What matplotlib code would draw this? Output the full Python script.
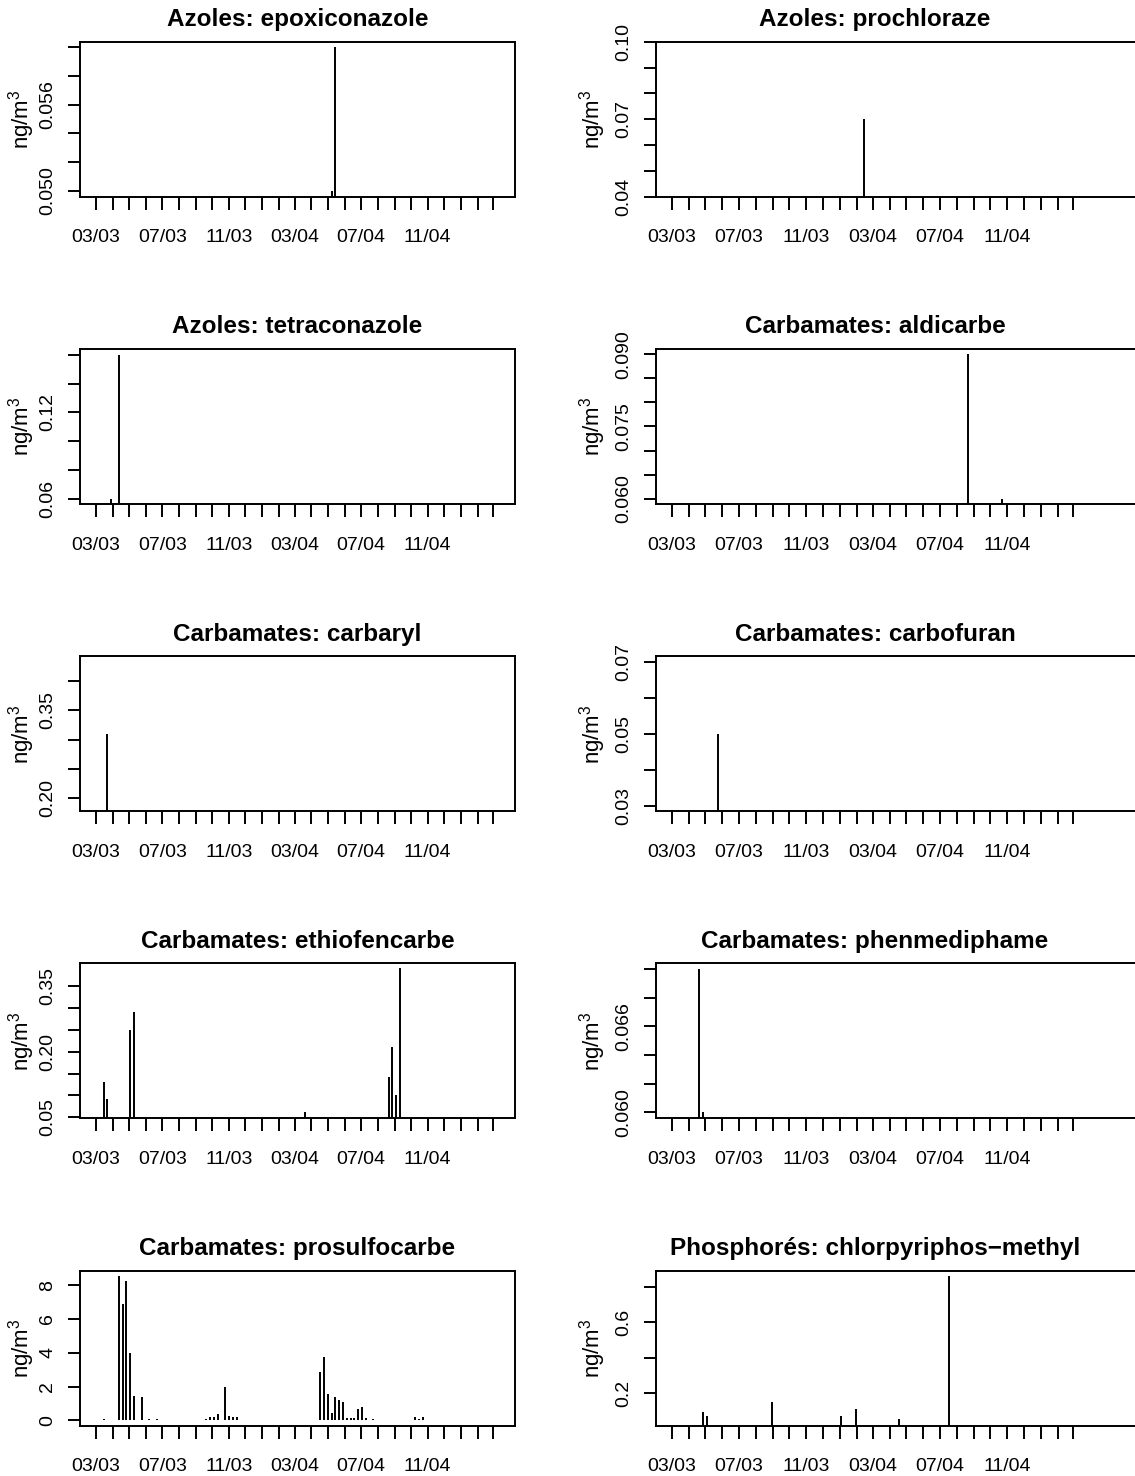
import numpy as np, pandas as pd
import matplotlib; matplotlib.use("Agg")
import matplotlib.pyplot as plt
import matplotlib.dates as mdates

plt.rcParams.update({"font.family": "Liberation Sans", "font.size": 14,
                     "mathtext.fontset": "custom", "mathtext.rm": "Liberation Sans",
                     "mathtext.it": "Liberation Sans:italic", "axes.linewidth": 1.4})

# ---- data (weekly samples, ng/m3) ----
epoxi_dates = ["2004-05-08", "2004-05-15"]
epoxi_vals  = [0.050, 0.060]
prochl_dates = ["2004-02-14"]
prochl_vals  = [0.070]
tetra_dates = ["2003-03-29", "2003-04-12"]
tetra_vals  = [0.060, 0.160]
aldi_dates = ["2004-08-21", "2004-10-23"]
aldi_vals  = [0.090, 0.060]
carbaryl_dates = ["2003-03-22"]
carbaryl_vals  = [0.31]
carbofuran_dates = ["2003-05-24"]
carbofuran_vals  = [0.050]
ethio_dates = ["2003-03-15", "2003-03-22", "2003-05-03", "2003-05-10", "2004-03-20",
               "2004-08-21", "2004-08-28", "2004-09-04", "2004-09-11"]
ethio_vals  = [0.131, 0.091, 0.251, 0.291, 0.062, 0.141, 0.211, 0.101, 0.392]
phenmed_dates = ["2003-04-19", "2003-04-26"]
phenmed_vals  = [0.070, 0.060]
prosulfo_dates = ["2003-03-15", "2003-04-12", "2003-04-19", "2003-04-26", "2003-05-03",
                  "2003-05-10", "2003-05-24", "2003-06-07", "2003-06-21",
                  "2003-09-20", "2003-09-27", "2003-10-04", "2003-10-11", "2003-10-25",
                  "2003-11-01", "2003-11-08", "2003-11-15",
                  "2004-04-17", "2004-04-24", "2004-05-01", "2004-05-08", "2004-05-15",
                  "2004-05-22", "2004-05-29", "2004-06-05", "2004-06-12", "2004-06-19",
                  "2004-06-26", "2004-07-03", "2004-07-10", "2004-07-24",
                  "2004-10-09", "2004-10-16", "2004-10-23"]
prosulfo_vals  = [0.08, 8.53, 6.88, 8.23, 4.01, 1.45, 1.36, 0.10, 0.10,
                  0.08, 0.20, 0.20, 0.41, 1.96, 0.29, 0.18, 0.18,
                  2.89, 3.73, 1.57, 0.43, 1.39, 1.22, 1.10, 0.14, 0.14, 0.14,
                  0.69, 0.81, 0.14, 0.10,
                  0.20, 0.08, 0.20]
chlor_dates = ["2003-04-26", "2003-05-03", "2003-08-30", "2004-01-03", "2004-01-31",
               "2004-04-17", "2004-07-17"]
chlor_vals  = [0.091, 0.068, 0.151, 0.068, 0.109, 0.051, 0.862]

# title, dates, values, ylim, yticks, labelled yticks, format
PANELS = [
    ("Azoles: epoxiconazole", epoxi_dates, epoxi_vals, (0.04958, 0.06039),
     np.arange(0.050, 0.0601, 0.002), [0.050, 0.056], "%.3f"),
    ("Azoles: prochloraze", prochl_dates, prochl_vals, (0.04, 0.10),
     np.arange(0.04, 0.1001, 0.01), [0.04, 0.07, 0.10], "%.2f"),
    ("Azoles: tetraconazole", tetra_dates, tetra_vals, (0.0563, 0.164),
     np.arange(0.06, 0.1601, 0.02), [0.06, 0.12], "%.2f"),
    ("Carbamates: aldicarbe", aldi_dates, aldi_vals, (0.0589, 0.0911),
     np.arange(0.060, 0.0901, 0.005), [0.060, 0.075, 0.090], "%.3f"),
    ("Carbamates: carbaryl", carbaryl_dates, carbaryl_vals, (0.177, 0.443),
     np.arange(0.20, 0.401, 0.05), [0.20, 0.35], "%.2f"),
    ("Carbamates: carbofuran", carbofuran_dates, carbofuran_vals, (0.0284, 0.0715),
     np.arange(0.03, 0.0701, 0.01), [0.03, 0.05, 0.07], "%.2f"),
    ("Carbamates: ethiofencarbe", ethio_dates, ethio_vals, (0.047, 0.403),
     np.arange(0.05, 0.351, 0.05), [0.05, 0.20, 0.35], "%.2f"),
    ("Carbamates: phenmediphame", phenmed_dates, phenmed_vals, (0.05958, 0.0704),
     np.arange(0.060, 0.0701, 0.002), [0.060, 0.066], "%.3f"),
    ("Carbamates: prosulfocarbe", prosulfo_dates, prosulfo_vals, (-0.314, 8.845),
     np.arange(0, 8.1, 2), [0, 2, 4, 6, 8], "%d"),
    ("Phosphorés: chlorpyriphos\u2212methyl", chlor_dates, chlor_vals, (0.0151, 0.892),
     np.arange(0.2, 0.81, 0.2), [0.2, 0.6], "%.1f"),
]

W, H = 1135, 1476
ROW_TOP = [41.7, 349.0, 656.3, 963.4, 1270.8]
BOX_H = 155
START = pd.Timestamp("2003-03-01")
months = pd.date_range("2003-03-01", "2005-03-01", freq="MS")
mlabels = [m.strftime("%m/%y") if k % 4 == 0 and k < 24 else "" for k, m in enumerate(months)]

fig = plt.figure(figsize=(W / 100, H / 100), dpi=100)
for i, (title, dates, vals, ylim, yt, ylab, fmt) in enumerate(PANELS):
    r, c = divmod(i, 2)
    if c == 0:
        x0, w, dleft, dright, tx, lx = 80, 435, -29.5, 772.0, 0.5, -52
    else:
        x0, w, dleft, dright, tx, lx = 656, 494, -29.1, 870.7, (875 - 656) / 494, -57
    ax = fig.add_axes([x0 / W, 1 - (ROW_TOP[r] + BOX_H) / H, w / W, BOX_H / H])
    d = mdates.date2num(pd.to_datetime(dates))
    ax.vlines(d, 0, vals, color="black", lw=1.4)
    ax.set_xlim(mdates.date2num(START) + dleft, mdates.date2num(START) + dright)
    ax.set_ylim(*ylim)
    ax.set_xticks(mdates.date2num(months))
    ax.set_xticklabels(mlabels)
    ax.set_yticks(yt)
    ax.set_yticklabels([fmt % v if any(abs(v - l) < 1e-9 for l in ylab) else "" for v in yt])
    ax.tick_params(axis="x", length=9.4, width=1.4, pad=14)
    ax.tick_params(axis="y", length=8.4, width=1.4, pad=8.8, labelrotation=90)
    for lb in ax.get_yticklabels():
        lb.set_va("center")
    ax.text(lx / w, 0.5, "ng/m$^3$", transform=ax.transAxes, rotation=90,
            rotation_mode="anchor", ha="center", va="baseline", fontsize=16)
    ax.set_title(title, fontsize=17.5, fontweight="bold", pad=11.3, x=tx)

fig.savefig("out.png", dpi=100)
